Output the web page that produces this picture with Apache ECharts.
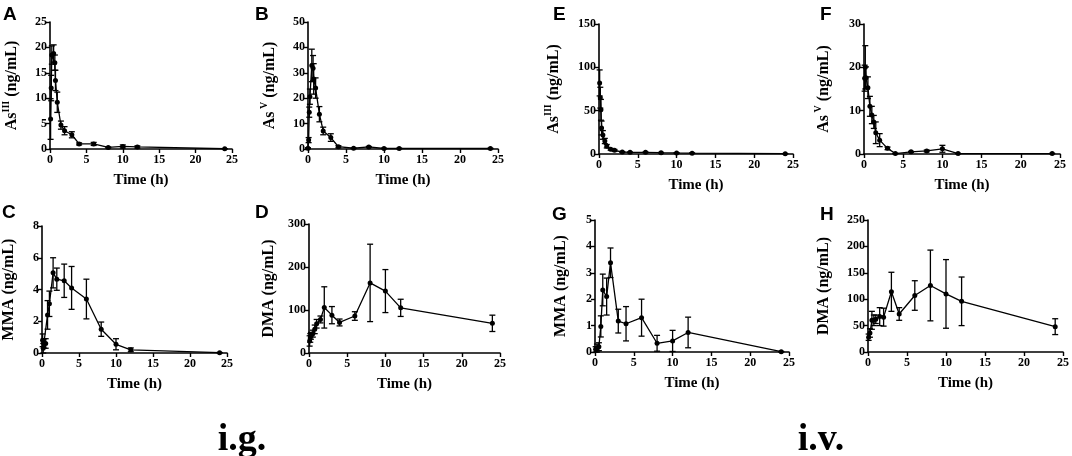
<!DOCTYPE html>
<html>
<head>
<meta charset="utf-8">
<script src="https://cdn.jsdelivr.net/npm/echarts@6/dist/echarts.min.js"></script>
<style>
  html, body { margin: 0; padding: 0; background: #fff; }
  #chart { width: 1072px; height: 456px; }
</style>
</head>
<body>
<div id="chart"></div>
<script>
// A: As(III) i.g.
var tA = [0.083, 0.167, 0.25, 0.5, 0.667, 0.75, 1, 1.5, 2, 3, 4, 6, 8, 10, 12, 24];
var mA = [5.9, 12, 18.5, 18.8, 17, 13.5, 9.2, 4.7, 3.6, 2.8, 1.0, 1.0, 0.3, 0.5, 0.4, 0.05];
var sA = [4, 2.5, 1.8, 1.7, 1.5, 2, 2, 0.8, 0.8, 0.6, 0.2, 0.3, 0.1, 0.3, 0.2, 0];
// B: As(V) i.g.
var tB = [0, 0.083, 0.167, 0.25, 0.5, 0.667, 0.75, 1, 1.5, 2, 3, 4, 6, 8, 10, 12, 24];
var mB = [0.3, 3.5, 14.5, 20.6, 32.9, 31.8, 27.6, 24, 13.7, 7.1, 4.5, 0.9, 0.3, 0.8, 0.2, 0.2, 0.2];
var sB = [0.2, 1, 2, 3, 6.4, 5, 6, 4, 3, 1.5, 1.5, 0.4, 0.1, 0.2, 0.1, 0.1, 0.1];
// C: MMA i.g.
var tC = [0.083, 0.167, 0.25, 0.5, 0.75, 1, 1.5, 2, 3, 4, 6, 8, 10, 12, 24];
var mC = [0.8, 0.3, 0.6, 0.6, 2.4, 3.1, 5.05, 4.65, 4.55, 4.1, 3.4, 1.5, 0.55, 0.2, 0.02];
var sC = [0.4, 0.3, 0.3, 0.3, 0.9, 0.8, 0.95, 0.7, 1.05, 1.35, 1.25, 0.45, 0.35, 0.12, 0.01];
// D: DMA i.g.
var tD = [0.083, 0.167, 0.25, 0.5, 0.75, 1, 1.5, 2, 3, 4, 6, 8, 10, 12, 24];
var mD = [28, 35, 40, 45, 55, 68, 78, 106, 88, 71, 86, 163, 144, 105, 69];
var sD = [12, 10, 8, 8, 10, 10, 8, 48, 20, 8, 10, 90, 50, 20, 19];
// E: As(III) i.v.
var tE = [0.083, 0.167, 0.25, 0.333, 0.5, 0.75, 1, 1.5, 2, 3, 4, 6, 8, 10, 12, 24];
var mE = [82, 65, 51, 30, 22, 15, 9, 5.4, 4.2, 2.3, 1.9, 1.9, 1.5, 1.2, 1.0, 0.4];
var sE = [15, 12, 12, 8, 5, 3, 2, 1, 1, 0.5, 0.4, 0.4, 0.3, 0.3, 0.2, 0.1];
// F: As(V) i.v.
var tF = [0.083, 0.167, 0.25, 0.5, 0.75, 1, 1.25, 1.5, 2, 3, 4, 6, 8, 10, 12, 24];
var mF = [17.5, 20, 17.6, 15.3, 11, 9, 7.4, 4.9, 3.2, 1.3, 0.1, 0.5, 0.7, 1.2, 0.1, 0.1];
var sF = [3, 5, 2.5, 2.5, 2.3, 2, 1.5, 2.5, 1.5, 0.3, 0.05, 0.1, 0.2, 0.8, 0.05, 0.05];
// G: MMA i.v.
var tG = [0.083, 0.25, 0.5, 0.75, 1, 1.5, 2, 3, 4, 6, 8, 10, 12, 24];
var mG = [0.1, 0.15, 0.2, 0.97, 2.35, 2.1, 3.38, 1.17, 1.07, 1.3, 0.33, 0.42, 0.74, 0.01];
var sG = [0.1, 0.15, 0.15, 0.4, 0.6, 0.7, 0.56, 0.45, 0.65, 0.7, 0.3, 0.4, 0.58, 0.01];
// H: DMA i.v.
var tH = [0.083, 0.25, 0.5, 0.75, 1, 1.5, 2, 3, 4, 6, 8, 10, 12, 24];
var mH = [28, 36, 60, 60, 62, 67, 66, 114, 72, 107, 126, 110, 96, 48];
var sH = [6, 8, 17, 10, 8, 17, 17, 37, 12, 28, 67, 65, 46, 15];

var xTicks = [0, 5, 10, 15, 20, 25];

var serif = '"Liberation Serif", "Times New Roman", serif';

// 每个小图: 数据, 坐标轴范围, 位置
var panels = [
    {letter: 'A', t: tA, m: mA, s: sA, max: 25, step: 5, name: '{b|As}{s|III}{b| (ng/mL)}', box: [42, 232, 22, 149], gap: 27, lx: 3, ly: 5},
    {letter: 'B', t: tB, m: mB, s: sB, max: 50, step: 10, name: '{b|As}{s| V}{b| (ng/mL)}', box: [308, 498, 22, 149], gap: 27, lx: 255, ly: 5},
    {letter: 'E', t: tE, m: mE, s: sE, max: 150, step: 50, name: '{b|As}{s|III}{b| (ng/mL)}', box: [599, 793, 24, 154], gap: 34, lx: 553, ly: 5},
    {letter: 'F', t: tF, m: mF, s: sF, max: 30, step: 10, name: '{b|As}{s| V}{b| (ng/mL)}', box: [864, 1060, 24, 154], gap: 29, lx: 820, ly: 5},
    {letter: 'C', t: tC, m: mC, s: sC, max: 8, step: 2, name: '{b|MMA (ng/mL)}', box: [37, 227, 226, 353], gap: 22, lx: 2, ly: 203},
    {letter: 'D', t: tD, m: mD, s: sD, max: 300, step: 100, name: '{b|DMA (ng/mL)}', box: [309, 500, 224, 353], gap: 29, lx: 255, ly: 203},
    {letter: 'G', t: tG, m: mG, s: sG, max: 5, step: 1, name: '{b|MMA (ng/mL)}', box: [595, 789, 220, 352], gap: 23, lx: 552, ly: 205},
    {letter: 'H', t: tH, m: mH, s: sH, max: 250, step: 50, name: '{b|DMA (ng/mL)}', box: [868, 1064, 220, 352], gap: 33, lx: 820, ly: 205}
];

var grids = [], xAxes = [], yAxes = [], series = [], graphics = [];

panels.forEach(function (p, i) {
    grids.push({
        left: p.box[0], top: p.box[2],
        width: p.box[1] - p.box[0], height: p.box[3] - p.box[2]
    });
    xAxes.push({
        gridIndex: i, type: 'value', min: xTicks[0], max: xTicks[xTicks.length - 1], interval: 5,
        name: 'Time (h)', nameLocation: 'middle', nameGap: 24,
        nameTextStyle: {fontFamily: serif, fontWeight: 'bold', fontSize: 15, color: '#000'},
        axisLine: {lineStyle: {color: '#000', width: 1.6}},
        axisTick: {length: 4, lineStyle: {color: '#000', width: 1.4}},
        axisLabel: {fontFamily: serif, fontWeight: 'bold', fontSize: 12, color: '#000', margin: 5},
        splitLine: {show: false}
    });
    yAxes.push({
        gridIndex: i, type: 'value', min: 0, max: p.max, interval: p.step,
        name: p.name, nameLocation: 'middle', nameGap: p.gap, nameRotate: 90,
        nameTextStyle: {
            rich: {
                b: {fontFamily: serif, fontWeight: 'bold', fontSize: 16, color: '#000', lineHeight: 22},
                s: {fontFamily: serif, fontWeight: 'bold', fontSize: 10, color: '#000', verticalAlign: 'top', lineHeight: 22}
            }
        },
        axisLine: {lineStyle: {color: '#000', width: 1.6}},
        axisTick: {length: 4, lineStyle: {color: '#000', width: 1.4}},
        axisLabel: {fontFamily: serif, fontWeight: 'bold', fontSize: 12, color: '#000', margin: 3},
        splitLine: {show: false}
    });

    var pts = [], bars = [];
    for (var k = 0; k < p.t.length; k++) {
        pts.push([p.t[k], p.m[k]]);
        bars.push([p.t[k], Math.max(0, p.m[k] - p.s[k]), p.m[k] + p.s[k]]);
    }
    // 误差线
    series.push({
        type: 'custom', xAxisIndex: i, yAxisIndex: i, data: bars, z: 2, silent: true,
        renderItem: function (params, api) {
            var lo = api.coord([api.value(0), api.value(1)]);
            var hi = api.coord([api.value(0), api.value(2)]);
            var w = 3;
            var st = {stroke: '#000', lineWidth: 1.3};
            return {
                type: 'group',
                children: [
                    {type: 'line', shape: {x1: lo[0], y1: lo[1], x2: hi[0], y2: hi[1]}, style: st},
                    {type: 'line', shape: {x1: hi[0] - w, y1: hi[1], x2: hi[0] + w, y2: hi[1]}, style: st},
                    {type: 'line', shape: {x1: lo[0] - w, y1: lo[1], x2: lo[0] + w, y2: lo[1]}, style: st}
                ]
            };
        }
    });
    // 均值折线
    series.push({
        type: 'line', xAxisIndex: i, yAxisIndex: i, data: pts, z: 3,
        symbol: 'circle', symbolSize: 5, animation: false,
        lineStyle: {color: '#000', width: 1.3},
        itemStyle: {color: '#000'}
    });

    graphics.push({
        type: 'text', left: p.lx, top: p.ly,
        style: {text: p.letter, font: 'bold 19px "Liberation Sans", Arial, sans-serif', fill: '#000'}
    });
});

graphics.push({
    type: 'text', x: 242, y: 440,
    style: {text: 'i.g.', font: 'bold 38px ' + serif, fill: '#000', align: 'center', verticalAlign: 'middle'}
});
graphics.push({
    type: 'text', x: 821, y: 440,
    style: {text: 'i.v.', font: 'bold 38px ' + serif, fill: '#000', align: 'center', verticalAlign: 'middle'}
});

var chart = echarts.init(document.getElementById('chart'));
chart.setOption({
    backgroundColor: '#fff',
    animation: false,
    grid: grids,
    xAxis: xAxes,
    yAxis: yAxes,
    series: series,
    graphic: graphics
});
</script>
</body>
</html>
